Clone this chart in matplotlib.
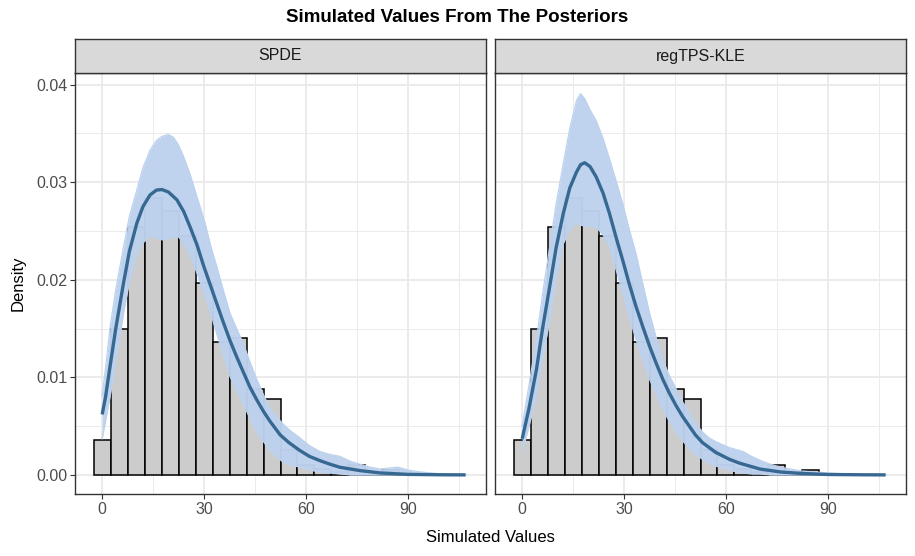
import numpy as np
import matplotlib.pyplot as plt
from matplotlib.ticker import MultipleLocator

plt.rcParams['font.family'] = ['Liberation Sans', 'DejaVu Sans']

# histogram of simulated values (binwidth 5, same in both panels)
bin_centers = [0, 5, 10, 15, 20, 25, 30, 35, 40, 45, 50, 55, 60, 65, 70, 75, 80, 85, 90]
bin_density = [0.0036, 0.0150, 0.0254, 0.0284, 0.0271, 0.0245, 0.0197, 0.0136, 0.0140,
               0.0088, 0.0078, 0.0025, 0.0010, 0.0006, 0.0003, 0.0010, 0.0003, 0.0005, 0.0001]

panels = ['SPDE', 'regTPS-KLE']

# main (dark) density curves
spde_x = [0, 1, 2.35, 4, 6.3, 8, 10.2, 12, 14.1, 16, 17.6, 19.5, 22, 24, 25.9, 28, 29.8,
          31.7, 33.7, 35.6, 37.6, 39.6, 41.6, 43.5, 45.5, 47.5, 49.4, 52.4, 55, 58.2, 61,
          64.1, 67, 70, 75.9, 81.8, 90, 100, 107]
spde_y = [0.0062, 0.0080, 0.0112, 0.0150, 0.0197, 0.0229, 0.0258, 0.0275, 0.0287, 0.0292,
          0.02925, 0.0290, 0.0282, 0.0270, 0.0254, 0.0235, 0.0215, 0.0196, 0.0176, 0.0157,
          0.0138, 0.0121, 0.0105, 0.0090, 0.0077, 0.0065, 0.0055, 0.0041, 0.0033, 0.0025,
          0.0019, 0.00146, 0.0011, 0.00078, 0.00044, 0.0002, 0.00005, 0.00001, 0.0]
tps_x = [0, 2, 4.2, 6, 8.1, 10, 12.1, 14, 16, 17.2, 18.4, 20, 21.8, 23.8, 25.7, 27.6, 29.6,
         31.5, 33.5, 35.5, 37.5, 39.5, 41.4, 43.3, 45.3, 47.2, 49.2, 51, 53.1, 57, 61, 64,
         70, 76, 82, 90, 100, 107]
tps_y = [0.0037, 0.0068, 0.0108, 0.0150, 0.0193, 0.0233, 0.0268, 0.0294, 0.03105, 0.0318,
         0.0320, 0.0316, 0.03054, 0.0289, 0.0268, 0.0244, 0.0220, 0.0196, 0.01728, 0.0152,
         0.0132, 0.0114, 0.0098, 0.0084, 0.0071, 0.0060, 0.0050, 0.0041, 0.0033, 0.0023,
         0.0016, 0.0012, 0.0006, 0.0003, 0.00015, 0.00004, 0.00001, 0.0]

# spread of the posterior draw densities (light curves): lower / upper edges
spde_band_x = [0, 1, 2.35, 4, 6.3, 8, 10.2, 12, 14.1, 16, 17.6, 19.5, 21, 22.5, 24, 25.9,
               28, 30.3, 32, 33.7, 35.6, 37.6, 39.6, 41.6, 43.5, 45.5, 47.5, 49.4, 51.5,
               53.3, 55.5, 58.2, 61, 64.1, 67, 70, 73, 75.9, 78.8, 81.8, 84.5, 87, 90,
               93.6, 100, 107]
spde_band_hi = [0.0081, 0.0110, 0.0152, 0.0190, 0.0234, 0.0265, 0.0292, 0.0315, 0.0333,
                0.0343, 0.0347, 0.0349, 0.0346, 0.0338, 0.0326, 0.0308, 0.0284, 0.0258,
                0.0234, 0.0214, 0.0190, 0.0166, 0.0150, 0.0134, 0.0116, 0.0098, 0.0082,
                0.0068, 0.0059, 0.0052, 0.0045, 0.0038, 0.0030, 0.0024, 0.0021, 0.0019,
                0.0014, 0.0011, 0.0008, 0.0006, 0.0007, 0.0008, 0.0005, 0.0003, 0.0001, 0.0]
spde_band_lo = [0.0037, 0.0055, 0.0081, 0.0115, 0.0166, 0.0198, 0.0227, 0.0238, 0.0245,
                0.0243, 0.0241, 0.0242, 0.0244, 0.0244, 0.0237, 0.0225, 0.0206, 0.0183,
                0.0165, 0.0145, 0.0123, 0.0101, 0.0086, 0.0072, 0.0058, 0.0044, 0.0034,
                0.0025, 0.0018, 0.0013, 0.0010, 0.0008, 0.0005, 0.0003, 0.0002, 0.0001,
                0.0, 0.0, 0.0, 0.0, 0.0, 0.0, 0.0, 0.0, 0.0, 0.0]
tps_band_x = [0, 2, 4.2, 6, 8.1, 10, 12.1, 14, 16, 17.2, 18.5, 20, 21.8, 23.8, 25.7, 27.6,
              29.6, 31.5, 33.5, 35.5, 37.5, 39.5, 41.4, 43.3, 45.3, 47.2, 49.2, 51, 53.1,
              55, 57, 59, 61, 63, 65, 67.5, 70, 73, 76, 79, 82, 86, 90, 95, 100, 107]
tps_band_hi = [0.0050, 0.0092, 0.0139, 0.0185, 0.0234, 0.0278, 0.0319, 0.0355, 0.0384,
               0.0391, 0.0385, 0.0374, 0.0363, 0.0345, 0.0324, 0.0302, 0.0278, 0.0252,
               0.0227, 0.0196, 0.0166, 0.0140, 0.0118, 0.0102, 0.0088, 0.0075, 0.0064,
               0.0053, 0.0044, 0.0038, 0.0034, 0.0031, 0.0028, 0.0026, 0.0024, 0.0019,
               0.0015, 0.0011, 0.0008, 0.0006, 0.0004, 0.0003, 0.0002, 0.0001, 0.00005, 0.0]
tps_band_lo = [0.0023, 0.0050, 0.0081, 0.0118, 0.0159, 0.0200, 0.0237, 0.0252, 0.0258,
               0.0256, 0.0255, 0.0255, 0.0254, 0.0246, 0.0234, 0.0211, 0.0186, 0.0162,
               0.0139, 0.0118, 0.0098, 0.0082, 0.0067, 0.0055, 0.0044, 0.0035, 0.0027,
               0.0021, 0.0016, 0.0012, 0.0009, 0.0007, 0.0005, 0.0003, 0.0002, 0.0001,
               0.0001, 0.0, 0.0, 0.0, 0.0, 0.0, 0.0, 0.0, 0.0, 0.0]

curves = [(spde_x, spde_y, spde_band_x, spde_band_lo, spde_band_hi),
          (tps_x, tps_y, tps_band_x, tps_band_lo, tps_band_hi)]

light = '#bdd2ee'
dark = '#376892'
W, H = 915, 556

fig = plt.figure(figsize=(W / 100, H / 100), dpi=100)
fig.text(0.5, 1 - 18 / H, 'Simulated Values From The Posteriors', ha='center', va='center',
         fontsize=13.5, fontweight='bold')

lefts = [75, 495]
for i, name in enumerate(panels):
    ax = fig.add_axes([lefts[i] / W, 62 / H, 411 / W, 421 / H])
    ax.set_facecolor('white')
    ax.bar(bin_centers, bin_density, width=5, color='#cccccc', edgecolor='black',
           linewidth=1.1, zorder=2)
    cx, cy, bx, blo, bhi = curves[i]
    ax.fill_between(bx, blo, bhi, color=light, alpha=0.97, lw=0, zorder=3)
    ax.plot(bx, bhi, color=light, lw=0.9, zorder=3)
    ax.plot(bx, blo, color=light, lw=0.9, zorder=3)
    ax.plot(cx, cy, color=dark, lw=2.4, zorder=4, solid_capstyle='butt')

    ax.set_xlim(-8, 113)
    ax.set_ylim(-0.00196, 0.0412)
    ax.xaxis.set_major_locator(MultipleLocator(30))
    ax.xaxis.set_minor_locator(MultipleLocator(15))
    ax.yaxis.set_major_locator(MultipleLocator(0.01))
    ax.yaxis.set_minor_locator(MultipleLocator(0.005))
    ax.grid(which='major', color='#ebebeb', lw=1.4, zorder=0)
    ax.grid(which='minor', color='#ebebeb', lw=0.7, zorder=0)
    ax.set_axisbelow(True)
    ax.tick_params(which='minor', length=0)
    ax.tick_params(which='major', length=3.5, width=0.8, color='#333333',
                   labelcolor='#4d4d4d', labelsize=11.5, pad=2)
    ax.set_yticks([0, 0.01, 0.02, 0.03, 0.04])
    ax.set_yticklabels(['0.00', '0.01', '0.02', '0.03', '0.04'])
    if i > 0:
        ax.tick_params(axis='y', which='both', left=False, labelleft=False)
    for s in ax.spines.values():
        s.set_color('#333333')
        s.set_linewidth(1.0)

    sax = fig.add_axes([lefts[i] / W, 1 - 73 / H, 411 / W, 34 / H])
    sax.set_facecolor('#d9d9d9')
    sax.set_xticks([])
    sax.set_yticks([])
    for s in sax.spines.values():
        s.set_color('#333333')
        s.set_linewidth(1.0)
    sax.text(0.5, 0.5, name, ha='center', va='center', fontsize=11.5, color='#1a1a1a',
             transform=sax.transAxes)

fig.text(490 / W, 1 - 537 / H, 'Simulated Values', ha='center', va='center', fontsize=12)
fig.text(18 / W, 1 - 283 / H, 'Density', ha='center', va='center', fontsize=12, rotation=90)

fig.savefig('out.png', dpi=100)
